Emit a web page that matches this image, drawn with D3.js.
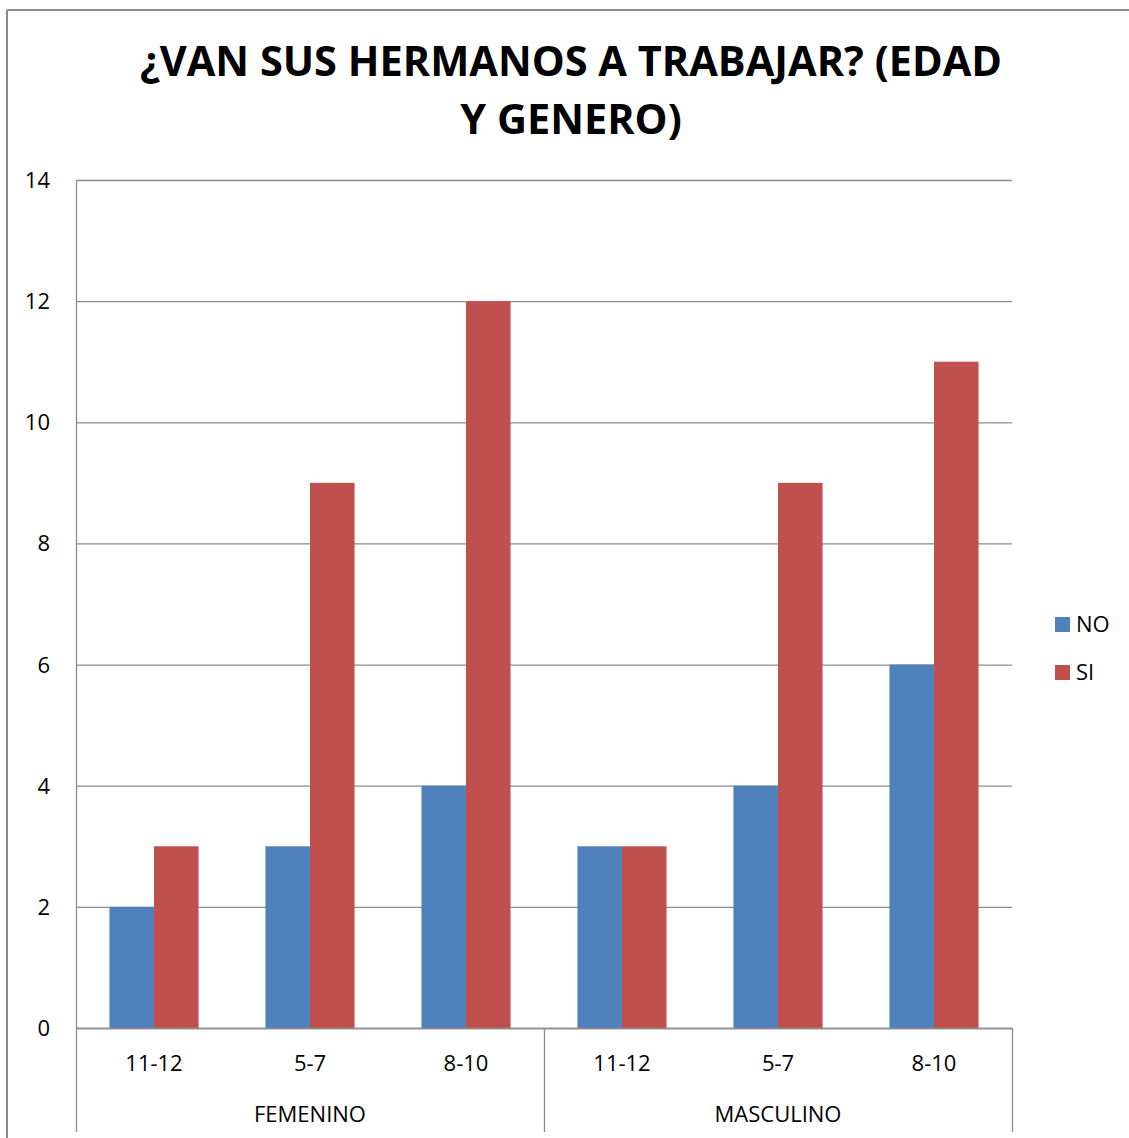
<!DOCTYPE html>
<html>
<head>
<meta charset="utf-8">
<script src="https://cdn.jsdelivr.net/npm/d3@7"></script>
<style>
  body { margin: 0; background: #fff; }
  text { font-family: "Open Sans", "Noto Sans", sans-serif; fill: #000; }
</style>
</head>
<body>
<div id="vis"></div>
<script>
var groups = ["FEMENINO", "MASCULINO"];
var ages = ["11-12", "5-7", "8-10"];
var seriesNames = ["NO", "SI"];
var seriesColors = ["#4f81bd", "#c0504d"];
var noValues = [2, 3, 4, 3, 4, 6];
var siValues = [3, 9, 12, 3, 9, 11];
var yTicks = [0, 2, 4, 6, 8, 10, 12, 14];

var width = 1129, height = 1138;
var plotLeft = 76, plotRight = 1012, plotTop = 180, plotBottom = 1028;

var svg = d3.select("#vis").append("svg")
  .attr("width", width).attr("height", height);

// outer chart border
svg.append("line").attr("x1", 7).attr("x2", width).attr("y1", 10).attr("y2", 10)
  .attr("stroke", "#8c8c8c").attr("stroke-width", 2);
svg.append("line").attr("x1", 7).attr("x2", 7).attr("y1", 10).attr("y2", height)
  .attr("stroke", "#8c8c8c").attr("stroke-width", 2);

// title
svg.append("text").attr("x", 571).attr("y", 76).attr("text-anchor", "middle")
  .style("font-size", "41.5px").style("font-weight", "bold")
  .text("¿VAN SUS HERMANOS A TRABAJAR? (EDAD");
svg.append("text").attr("x", 571).attr("y", 134).attr("text-anchor", "middle")
  .style("font-size", "41.5px").style("font-weight", "bold")
  .text("Y GENERO)");

var cats = [];
groups.forEach(function(g){ ages.forEach(function(a){ cats.push(g + "|" + a); }); });

var data = cats.map(function(c, i){
  return { cat: c, values: [noValues[i], siValues[i]] };
});

var x = d3.scaleBand().domain(cats).range([plotLeft, plotRight]).paddingInner(0).paddingOuter(0);
var bw = x.bandwidth() / 3.5;
var y = d3.scaleLinear().domain([0, 14]).range([plotBottom, plotTop]);

// gridlines
svg.selectAll(".grid").data(yTicks).enter().append("line")
  .attr("class", "grid")
  .attr("x1", plotLeft).attr("x2", plotRight)
  .attr("y1", function(d){ return y(d) + 0.5; })
  .attr("y2", function(d){ return y(d) + 0.5; })
  .attr("stroke", "#8c8c8c").attr("stroke-width", 1.3);

// y axis labels
svg.selectAll(".ylab").data(yTicks).enter().append("text")
  .attr("class", "ylab")
  .attr("x", 50).attr("y", function(d){ return y(d) + 8; })
  .attr("text-anchor", "end")
  .style("font-size", "22px")
  .text(function(d){ return d; });

// bars
var groupSel = svg.selectAll(".cat").data(data).enter().append("g")
  .attr("class", "cat")
  .attr("transform", function(d){ return "translate(" + x(d.cat) + ",0)"; });

groupSel.selectAll("rect").data(function(d){ return d.values; }).enter().append("rect")
  .attr("x", function(d, i){ return bw * 0.75 + i * bw; })
  .attr("width", bw)
  .attr("y", function(d){ return y(d); })
  .attr("height", function(d){ return plotBottom - y(d); })
  .attr("fill", function(d, i){ return seriesColors[i]; });

// axes lines
svg.append("line").attr("x1", plotLeft + 0.5).attr("x2", plotLeft + 0.5).attr("y1", plotTop).attr("y2", 1132)
  .attr("stroke", "#8c8c8c").attr("stroke-width", 1.3);
svg.append("line").attr("x1", plotLeft).attr("x2", plotRight).attr("y1", plotBottom + 0.5).attr("y2", plotBottom + 0.5)
  .attr("stroke", "#8c8c8c").attr("stroke-width", 1.3);
[1, 2].forEach(function(k){
  var gx = x(cats[k * 3 - 1]) + x.bandwidth();
  svg.append("line").attr("x1", gx + 0.5).attr("x2", gx + 0.5).attr("y1", plotBottom).attr("y2", 1132)
    .attr("stroke", "#8c8c8c").attr("stroke-width", 1.3);
});

// category labels
svg.selectAll(".xlab").data(cats).enter().append("text")
  .attr("class", "xlab")
  .attr("x", function(d){ return x(d) + x.bandwidth() / 2; })
  .attr("y", 1071)
  .attr("text-anchor", "middle")
  .style("font-size", "22px")
  .text(function(d){ return d.split("|")[1]; });

svg.selectAll(".glab").data(groups).enter().append("text")
  .attr("class", "glab")
  .attr("x", function(d, i){ return plotLeft + (plotRight - plotLeft) / 4 * (2 * i + 1); })
  .attr("y", 1122)
  .attr("text-anchor", "middle")
  .style("font-size", "22px")
  .text(function(d){ return d; });

// legend
var legend = svg.selectAll(".leg").data(seriesNames).enter().append("g")
  .attr("class", "leg")
  .attr("transform", function(d, i){ return "translate(1055," + (617 + i * 48) + ")"; });
legend.append("rect").attr("width", 15).attr("height", 15)
  .attr("fill", function(d, i){ return seriesColors[i]; });
legend.append("text").attr("x", 21).attr("y", 15)
  .style("font-size", "22px")
  .text(function(d){ return d; });
</script>
</body>
</html>
